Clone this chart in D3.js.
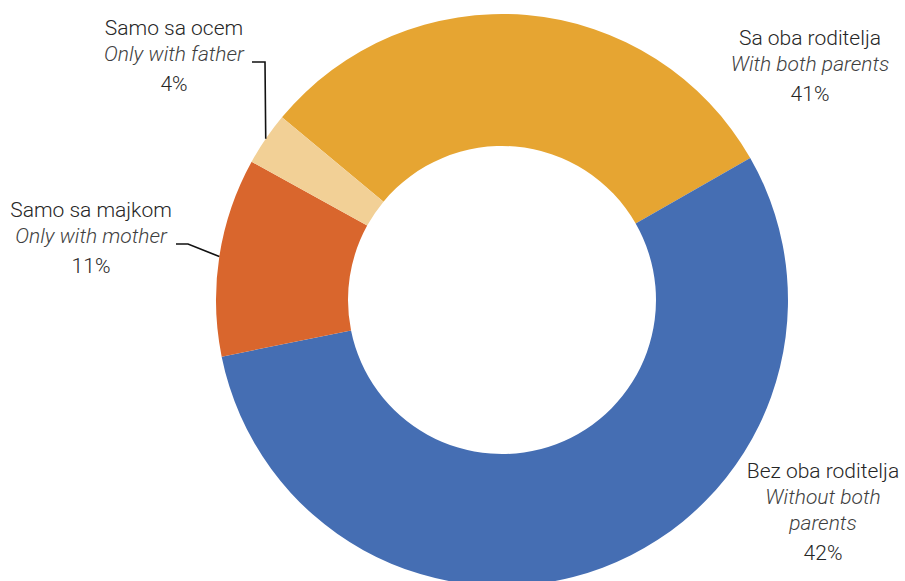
<!DOCTYPE html>
<html>
<head>
<meta charset="utf-8">
<script src="https://cdn.jsdelivr.net/npm/d3@7"></script>
<style>
  html, body { margin: 0; padding: 0; background: #fff; }
  svg { display: block; }
  .lbl { font-family: Roboto, "Noto Sans", sans-serif; font-weight: 300; font-size: 21px; fill: #262626; }
  .lbl .en { font-style: italic; fill: #3f3f3f; }
  .leader { fill: none; stroke: #111; stroke-width: 1.6; }
</style>
</head>
<body>
<svg id="chart"></svg>
<script>
// Living arrangement donut: slice sizes read off the drawn arcs,
// percentage labels copied as printed on the chart.

const categories = ["Sa oba roditelja", "Bez oba roditelja", "Samo sa majkom", "Samo sa ocem"];
const categoriesEn = ["With both parents", "Without both parents", "Only with mother", "Only with father"];
const shares = [30.7, 55.1, 11.2, 3.0];
const pctLabels = ["41%", "42%", "11%", "4%"];
const colors = ["#e6a532", "#456eb3", "#d9662d", "#f2d096"];

const W = 905, H = 581;
const CENTER = [502, 300];
const R_OUTER = 286, R_INNER = 154;
const START = -50.3 * Math.PI / 180;

// label boxes: centre x, first baseline, wrap width; optional leader elbow/end
const labelLayout = [
  { x: 810, y: 45, wrap: 165 },
  { x: 823, y: 478, wrap: 160 },
  { x: 91, y: 217, wrap: 180, elbow: [188, 244], end: [176, 244] },
  { x: 174, y: 35, wrap: 160, elbow: [265, 62], end: [252, 62] }
];
const LINE_H = 26, PCT_GAP = 30;

const svg = d3.select("#chart").attr("width", W).attr("height", H);

const pie = d3.pie().sort(null).value(d => d)
  .startAngle(START).endAngle(START + 2 * Math.PI);
const arc = d3.arc().innerRadius(R_INNER).outerRadius(R_OUTER);

const arcs = pie(shares);

const g = svg.append("g").attr("transform", `translate(${CENTER[0]},${CENTER[1]})`);

g.selectAll("path.slice")
  .data(arcs)
  .join("path")
    .attr("class", "slice")
    .attr("d", arc)
    .attr("fill", (d, i) => colors[i]);

// leader lines from the outer edge at each slice's mid angle
const leaders = arcs.map((d, i) => ({ d, i, lay: labelLayout[i] })).filter(o => o.lay.elbow);
svg.selectAll("path.leader")
  .data(leaders)
  .join("path")
    .attr("class", "leader")
    .attr("d", o => {
      const a = (o.d.startAngle + o.d.endAngle) / 2;
      const p = [CENTER[0] + R_OUTER * Math.sin(a), CENTER[1] - R_OUTER * Math.cos(a)];
      return d3.line()([p, o.lay.elbow, o.lay.end]);
    });

function wrapWords(textSel, str, width) {
  const words = str.split(" ");
  const lines = [];
  let cur = [];
  const probe = textSel.append("tspan");
  for (const w of words) {
    const tryLine = cur.concat(w).join(" ");
    probe.text(tryLine);
    if (probe.node().getComputedTextLength() > width && cur.length) {
      lines.push(cur.join(" "));
      cur = [w];
    } else {
      cur.push(w);
    }
  }
  lines.push(cur.join(" "));
  probe.remove();
  return lines;
}

categories.forEach((name, i) => {
  const lay = labelLayout[i];
  const t = svg.append("text").attr("class", "lbl").attr("text-anchor", "middle");
  let y = lay.y;
  t.append("tspan").attr("x", lay.x).attr("y", y).text(name);
  const probeText = svg.append("text").attr("class", "lbl").append("tspan").attr("class", "en");
  const enLines = wrapWords(d3.select(probeText.node().parentNode), categoriesEn[i], lay.wrap);
  probeText.node().parentNode.remove();
  enLines.forEach(line => {
    y += LINE_H;
    t.append("tspan").attr("class", "en").attr("x", lay.x).attr("y", y).text(line);
  });
  y += PCT_GAP;
  t.append("tspan").attr("x", lay.x).attr("y", y).text(pctLabels[i]);
});
</script>
</body>
</html>
